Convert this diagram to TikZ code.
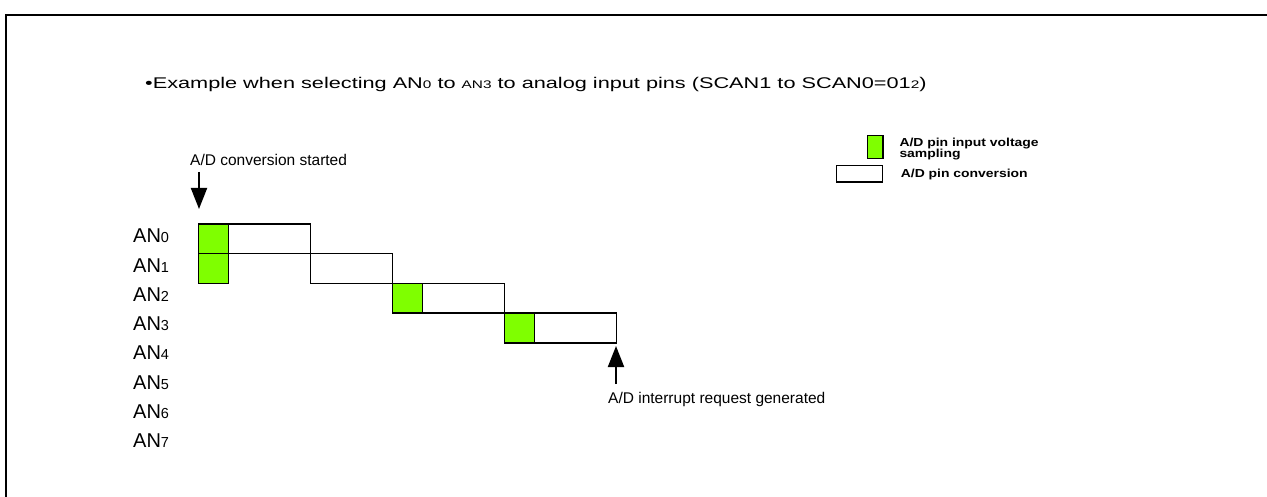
\documentclass[tikz,border=0pt]{standalone}
\usepackage{fontspec}
\setmainfont{Liberation Sans}
\newfontfamily\titlefont[FakeStretch=1.4]{Liberation Sans}
\newfontfamily\legendfont[FakeStretch=1.2]{Liberation Sans}
\usetikzlibrary{arrows.meta}
\newcommand\smA[1]{{\fontsize{11}{12}\selectfont #1}}
\newcommand\smB[1]{{\fontsize{14.5}{14.5}\selectfont #1}}
\definecolor{sampgreen}{HTML}{7FFF00}
\tikzset{
  samp/.style={draw=black, fill=sampgreen, line width=1.4pt, inner sep=0pt, anchor=north west},
  conv/.style={draw=black, fill=white, line width=1.4pt, inner sep=0pt, anchor=north west},
  pinlabel/.style={anchor=base west, inner sep=0pt, font=\fontsize{20}{20}\selectfont},
  note/.style={anchor=base west, inner sep=0pt, font=\fontsize{15.5}{15.5}\selectfont},
  legend/.style={anchor=base west, inner sep=0pt, font=\legendfont\fontsize{11.6}{12}\selectfont\bfseries},
  bigarrow/.style={line width=2pt, -{Triangle[width=16pt,length=21pt]}},
}
\begin{document}
\begin{tikzpicture}[x=1pt,y=-1pt]
\useasboundingbox (0,0) rectangle (1267,497);
\clip (0,0) rectangle (1267,497);
% frame
\draw[line width=2pt] (6,505) -- (6,15) -- (1275,15);
% title
\node[anchor=base west, inner sep=0pt, font=\titlefont\fontsize{15.5}{16}\selectfont] (title) at (145,88.5)
  {•Example when selecting AN\smA{0} to \smA{AN3} to analog input pins (SCAN1 to SCAN0=01\smA{2})};
% legend
\node[samp, minimum width=15.5, minimum height=23] (lgs) at (866.7,135) {};
\node[conv, minimum width=46, minimum height=16.5] (lgc) at (836,164.7) {};
\node[legend] (lgst1) at (899.3,146.3) {A/D pin input voltage};
\node[legend] (lgst2) at (899.3,157.3) {sampling};
\node[legend] (lgct) at (900.7,177.3) {A/D pin conversion};
% pin labels
\foreach \i in {0,...,7} {
  \node[pinlabel] (an\i) at (133,243+29.2*\i) {AN\smB{\i}};
}
% timing boxes
\node[samp, minimum width=30, minimum height=29.7] (s0) at (198,223.3) {};
\node[conv, minimum width=82, minimum height=29.7] (c0) at (228,223.3) {};
\node[samp, minimum width=30, minimum height=29.7] (s1) at (198,253) {};
\node[conv, minimum width=82, minimum height=29.7] (c1) at (310,253) {};
\node[samp, minimum width=30, minimum height=29.7] (s2) at (392,282.7) {};
\node[conv, minimum width=82, minimum height=29.7] (c2) at (422,282.7) {};
\node[samp, minimum width=30, minimum height=29.7] (s3) at (504,312.4) {};
\node[conv, minimum width=82, minimum height=29.7] (c3) at (534,312.4) {};
% start arrow
\node[note] (startlbl) at (190,165.7) {A/D conversion started};
\coordinate (a1s) at (199,172);
\coordinate (a1e) at (199,209);
\draw[bigarrow] (a1s) -- (a1e);
% end arrow
\node[note] (endlbl) at (608,403) {A/D interrupt request generated};
\coordinate (a2s) at (616,384);
\coordinate (a2e) at (616,346);
\draw[bigarrow] (a2s) -- (a2e);
\end{tikzpicture}
\end{document}
